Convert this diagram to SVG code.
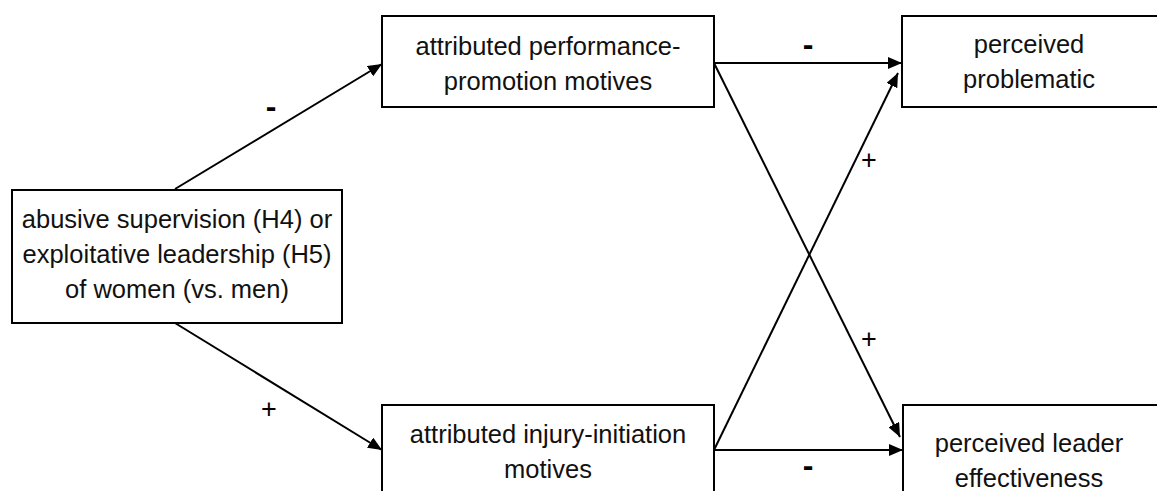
<svg xmlns="http://www.w3.org/2000/svg" width="1157" height="491" viewBox="0 0 1157 491">
<style>
.box{fill:#fff;stroke:#000;stroke-width:2}
.t{font-family:"Liberation Sans",Arial,sans-serif;font-size:25.5px;fill:#111;text-anchor:middle}
.sign{font-family:"Liberation Sans",Arial,sans-serif;font-size:27px;fill:#000;text-anchor:middle}
.dash{font-family:"Liberation Sans",Arial,sans-serif;font-size:32px;font-weight:bold;fill:#000;text-anchor:middle}
.c{stroke:#000;stroke-width:2;fill:none;marker-end:url(#ah)}
</style>
<defs>
<marker id="ah" viewBox="0 0 14 12" refX="14" refY="6" markerWidth="14" markerHeight="12" markerUnits="userSpaceOnUse" orient="auto">
<path d="M0,0 L14,6 L0,12 Z" fill="#000"/>
</marker>
</defs>
<rect width="1157" height="491" fill="#fff"/>
<g id="connectors">
<line class="c" x1="175" y1="189" x2="382" y2="64"/>
<line class="c" x1="175" y1="323" x2="382" y2="450"/>
<line class="c" x1="714" y1="63" x2="902" y2="63"/>
<line class="c" x1="714" y1="63" x2="900" y2="437"/>
<line class="c" x1="714" y1="450" x2="898" y2="73"/>
<line class="c" x1="714" y1="450" x2="903" y2="450"/>
<text class="dash" x="271" y="117">-</text>
<text class="sign" x="269" y="418">+</text>
<text class="dash" x="808" y="55">-</text>
<text class="dash" x="808" y="476">-</text>
<text class="sign" x="869" y="169">+</text>
<text class="sign" x="869" y="348">+</text>
</g>
<g id="n-source">
<rect class="box" x="12" y="190" width="330" height="133"/>
<text class="t" x="177" y="228">abusive supervision (H4) or</text>
<text class="t" x="177" y="263">exploitative leadership (H5)</text>
<text class="t" x="177" y="298">of women (vs. men)</text>
</g>
<g id="n-performance">
<rect class="box" x="382" y="16" width="332" height="91"/>
<text class="t" x="548" y="55">attributed performance-</text>
<text class="t" x="548" y="90">promotion motives</text>
</g>
<g id="n-injury">
<rect class="box" x="382" y="405" width="332" height="100"/>
<text class="t" x="548" y="443">attributed injury-initiation</text>
<text class="t" x="548" y="478">motives</text>
</g>
<g id="n-problematic">
<rect class="box" x="902" y="16" width="260" height="91"/>
<text class="t" x="1029" y="53">perceived</text>
<text class="t" x="1029" y="88">problematic</text>
</g>
<g id="n-effectiveness">
<rect class="box" x="903" y="405" width="260" height="100"/>
<text class="t" x="1029" y="452">perceived leader</text>
<text class="t" x="1029" y="487">effectiveness</text>
</g>
</svg>
